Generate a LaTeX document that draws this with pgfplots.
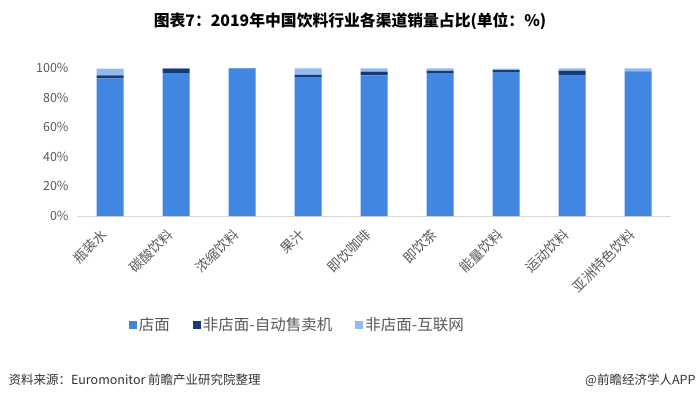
\documentclass[border=0pt]{standalone}
\usepackage{pgfplots}
\pgfplotsset{compat=1.18}
\usepackage{fontspec}
\setmainfont{Noto Sans CJK SC}
\definecolor{cstore}{RGB}{65,134,224}
\definecolor{cvend}{RGB}{22,58,118}
\definecolor{cweb}{RGB}{145,187,240}
\definecolor{txt}{RGB}{89,89,89}
\begin{document}
\begin{tikzpicture}[x=1pt,y=1pt]
\path[use as bounding box, fill=white] (0,0) rectangle (700,399);
\node[font=\fontsize{15.8}{18}\selectfont\bfseries] at (350,378) {图表7：2019年中国饮料行业各渠道销量占比(单位：\%)};
\begin{axis}[at={(77pt,183pt)}, anchor=south west, scale only axis,
  width=594pt, height=148pt,
  ymin=0, ymax=100, xmin=-0.5, xmax=8.5,
  ybar stacked, bar width=27pt,
  axis x line*=bottom, axis y line*=left,
  x axis line style={draw={rgb,255:red,217;green,217;blue,217}, line width=1pt, -},
  y axis line style={draw=none},
  xtick=data, xtick style={draw=none}, ytick style={draw=none},
  ytick={0,20,40,60,80,100},
  yticklabel={\pgfmathprintnumber{\tick}\%},
  /pgf/number format/assume math mode=true,
  yticklabel style={font=\fontsize{12.5}{14}\selectfont, text=txt, xshift=-5pt},
  xticklabels={瓶装水,碳酸饮料,浓缩饮料,果汁,即饮咖啡,即饮茶,能量饮料,运动饮料,亚洲特色饮料},
  xticklabel style={font=\fontsize{13.5}{15}\selectfont, text=txt, xshift=-10pt, yshift=-10pt, rotate=45, anchor=north east, inner sep=1pt},
  legend style={at={(0.371,-0.736)}, anchor=center, draw=none, legend columns=3,
    font=\fontsize{15.5}{17}\selectfont, text=txt,
    /tikz/every even column/.append style={column sep=21pt}},
  legend image code/.code={\fill[#1] (0pt,-4pt) rectangle (8pt,4pt);},
]
\addplot[fill=cstore, draw=none] coordinates {(0,93) (1,96.6) (2,99.7) (3,93.5) (4,95) (5,96.2) (6,97.2) (7,95.3) (8,97.2)};
\addplot[fill=cvend, draw=none] coordinates {(0,2) (1,2.9) (2,0.1) (3,1.8) (4,2.6) (5,1.8) (6,1.3) (7,2.9) (8,0.3)};
\addplot[fill=cweb, draw=none] coordinates {(0,4.6) (1,0.4) (2,0.1) (3,4.5) (4,2.2) (5,1.8) (6,1.1) (7,1.6) (8,2.3)};
\legend{店面,非店面-自动售卖机,非店面-互联网}
\end{axis}
\node[anchor=west, font=\fontsize{12.5}{14}\selectfont, text={rgb,255:red,51;green,51;blue,51}] at (5,19) {资料来源：Euromonitor 前瞻产业研究院整理};
\node[anchor=east, font=\fontsize{12.5}{14}\selectfont, text={rgb,255:red,51;green,51;blue,51}] at (699,19) {@前瞻经济学人APP};
\end{tikzpicture}
\end{document}
